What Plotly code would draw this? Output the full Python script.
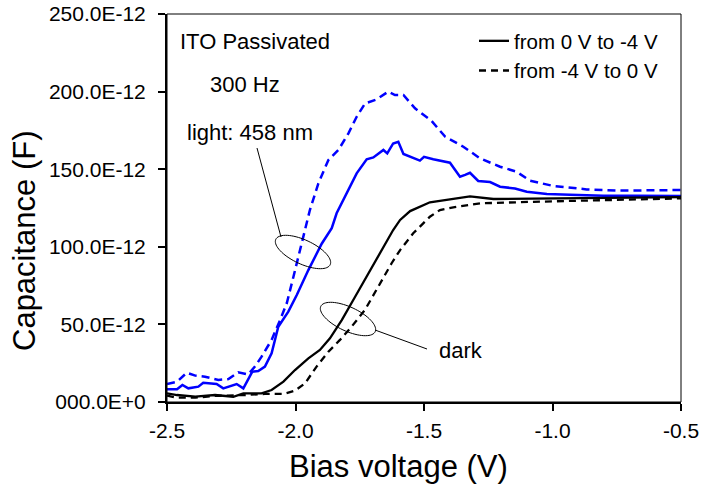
import numpy as np
import plotly.graph_objects as go

# ---------------- data (bias in V, capacitance in pF) ----------------
light_up_v = [-2.500, -2.461, -2.440, -2.417, -2.378, -2.359, -2.307, -2.281, -2.229, -2.203,
              -2.168, -2.145, -2.119, -2.093, -2.067, -2.028, -1.995, -1.950, -1.898, -1.859,
              -1.840, -1.800, -1.762, -1.723, -1.697, -1.658, -1.643, -1.620, -1.600, -1.580,
              -1.535, -1.516, -1.500, -1.464, -1.399, -1.360, -1.340, -1.321, -1.289, -1.243,
              -1.204, -1.146, -1.100, -1.022, -0.932, -0.802, -0.672, -0.500]
light_up_c = [8.2, 8.2, 11.0, 8.8, 9.9, 12.4, 11.6, 8.8, 11.6, 8.8,
              19.5, 20.0, 22.8, 31.4, 48.5, 58.2, 68.9, 85.0, 102.0, 112.0,
              121.6, 134.5, 147.3, 156.4, 157.6, 162.4, 160.2, 166.6, 167.7, 159.8,
              157.0, 155.5, 158.0, 156.4, 154.2, 145.2, 146.3, 147.7, 142.4, 141.7,
              138.7, 137.6, 135.5, 134.0, 133.6, 132.9, 132.9, 132.7]

light_down_v = [-2.500, -2.461, -2.423, -2.390, -2.352, -2.300, -2.261, -2.223, -2.184, -2.158,
                -2.132, -2.093, -2.060, -2.034, -2.008, -1.989, -1.970, -1.944, -1.911, -1.872,
                -1.833, -1.794, -1.762, -1.729, -1.684, -1.639, -1.613, -1.580, -1.535, -1.502,
                -1.470, -1.418, -1.347, -1.282, -1.204, -1.140, -1.088, -0.997, -0.867, -0.737,
                -0.500]
light_down_c = [11.6, 13.0, 18.9, 17.0, 16.3, 14.2, 14.8, 19.1, 17.8, 22.8,
                29.2, 40.0, 52.8, 63.6, 80.7, 93.6, 108.0, 123.7, 140.9, 155.9,
                162.4, 173.1, 183.8, 192.4, 195.0, 200.0, 197.8, 197.8, 189.2, 184.9,
                181.0, 171.0, 164.5, 157.0, 151.6, 148.4, 142.6, 139.2, 137.0, 136.2,
                136.6]

dark_up_v = [-2.500, -2.461, -2.390, -2.313, -2.242, -2.203, -2.132, -2.093, -2.047, -2.002,
             -1.950, -1.905, -1.866, -1.820, -1.768, -1.716, -1.665, -1.620, -1.593, -1.554,
             -1.477, -1.399, -1.321, -1.230, -0.997, -0.500]
dark_up_c = [5.6, 4.5, 3.4, 4.5, 3.4, 5.6, 5.6, 7.7, 13.1, 20.6,
             28.1, 33.5, 41.0, 52.8, 67.8, 82.9, 97.9, 110.8, 117.3, 123.0,
             128.7, 130.6, 132.5, 130.8, 131.2, 132.0]

dark_down_v = [-2.500, -2.461, -2.390, -2.313, -2.196, -2.119, -2.047, -2.002, -1.963, -1.918,
               -1.872, -1.827, -1.782, -1.730, -1.678, -1.626, -1.593, -1.574, -1.542, -1.477,
               -1.438, -1.386, -1.282, -1.074, -0.815, -0.500]
dark_down_c = [4.1, 2.8, 2.8, 3.9, 4.5, 5.2, 5.2, 7.3, 12.0, 22.8,
               32.4, 40.0, 48.5, 59.3, 74.3, 89.4, 97.9, 102.2, 108.7, 119.4,
               123.7, 125.4, 128.0, 129.0, 130.1, 131.2]

x_tickvals = [-2.5, -2.0, -1.5, -1.0, -0.5]
x_ticktext = ["-2.5", "-2.0", "-1.5", "-1.0", "-0.5"]
y_tickvals_pf = [0, 50, 100, 150, 200, 250]
y_ticktext = ["000.0E+0", "50.0E-12", "100.0E-12", "150.0E-12", "200.0E-12", "250.0E-12"]

legend_names = ["from 0 V to -4 V", "from -4 V to 0 V"]

# ---------------- layout constants ----------------
W, H = 702, 488
ML, MR, MT, MB = 167, 21, 14, 86
XR = [-2.5, -0.5]
YR = [0, 250e-12]
FONT = "Liberation Sans, Arial, sans-serif"
PW, PH = W - ML - MR, H - MT - MB


def px_to_data(px, py):
    x = XR[0] + (px - ML) / PW * (XR[1] - XR[0])
    y = YR[0] + (H - MB - py) / PH * (YR[1] - YR[0])
    return x, y


def ellipse_path(cx, cy, a, b, ang_deg, n=72):
    th = np.deg2rad(ang_deg)
    t = np.linspace(0, 2 * np.pi, n, endpoint=False)
    ex = cx + a * np.cos(t) * np.cos(th) - b * np.sin(t) * np.sin(th)
    ey = cy + a * np.cos(t) * np.sin(th) + b * np.sin(t) * np.cos(th)
    pts = [px_to_data(u, v) for u, v in zip(ex, ey)]
    d = "M " + " L ".join(f"{p[0]:.5f},{p[1]:.6e}" for p in pts) + " Z"
    return d


pf = 1e-12
fig = go.Figure()
fig.add_trace(go.Scatter(x=light_up_v, y=np.array(light_up_c) * pf, mode="lines",
                         line=dict(color="#0000ff", width=2.5), showlegend=False))
fig.add_trace(go.Scatter(x=light_down_v, y=np.array(light_down_c) * pf, mode="lines",
                         line=dict(color="#0000ff", width=2.5, dash="8px,5px"), showlegend=False))
fig.add_trace(go.Scatter(x=dark_up_v, y=np.array(dark_up_c) * pf, mode="lines",
                         name=legend_names[0], legendgroup="a",
                         line=dict(color="black", width=2.3)))
fig.add_trace(go.Scatter(x=dark_down_v, y=np.array(dark_down_c) * pf, mode="lines",
                         name=legend_names[1], legendgroup="b",
                         line=dict(color="black", width=2.3, dash="7px,5px")))

shapes = [
    dict(type="rect", xref="paper", yref="paper", x0=0, y0=0, x1=1, y1=1,
         line=dict(color="black", width=1), layer="above"),
    dict(type="path", path=ellipse_path(303, 252, 30, 12, 25), line=dict(color="black", width=1)),
    dict(type="path", path=ellipse_path(348, 319, 30, 12, 25), line=dict(color="black", width=1)),
]
for (p0, p1) in [((257, 148), (281, 237)), ((375, 330), (427, 349))]:
    a0 = px_to_data(*p0)
    a1 = px_to_data(*p1)
    shapes.append(dict(type="line", x0=a0[0], y0=a0[1], x1=a1[0], y1=a1[1],
                       line=dict(color="black", width=1)))

annotations = []
for txt, px, py in [("ITO Passivated", 178, 41), ("300 Hz", 208, 84),
                    ("light: 458 nm", 185, 132), ("dark", 437, 350)]:
    x, y = px_to_data(px, py)
    annotations.append(dict(text=txt, x=x, y=y, xanchor="left", yanchor="middle",
                            showarrow=False, font=dict(size=22, color="black", family=FONT)))
# axis titles
annotations.append(dict(text="Bias voltage (V)", xref="paper", yref="paper",
                        x=(398 - ML) / PW, y=-(466 - (H - MB)) / PH, xanchor="center", yanchor="middle",
                        showarrow=False, font=dict(size=31, color="black", family=FONT)))
annotations.append(dict(text="Capacitance (F)", xref="paper", yref="paper",
                        x=-(ML - 25) / PW, y=(H - MB - 241) / PH, xanchor="center", yanchor="middle",
                        textangle=-90, showarrow=False, font=dict(size=31, color="black", family=FONT)))

fig.update_layout(
    width=W, height=H,
    margin=dict(l=ML, r=MR, t=MT, b=MB, autoexpand=False),
    paper_bgcolor="white", plot_bgcolor="white",
    font=dict(family=FONT, color="black", size=21),
    showlegend=True,
    legend=dict(x=(474 - ML) / PW, y=(H - MB - 21) / PH, xanchor="left", yanchor="top",
                bgcolor="rgba(0,0,0,0)", font=dict(size=20.5, family=FONT),
                traceorder="grouped", tracegroupgap=0, itemwidth=30),
    shapes=shapes,
    annotations=annotations,
)
fig.update_xaxes(range=XR, tickvals=x_tickvals, ticktext=x_ticktext, showgrid=False, zeroline=False,
                 showline=True, linecolor="black", linewidth=2, ticks="outside", ticklen=7,
                 tickwidth=1.5, tickcolor="black", ticklabelstandoff=2, automargin=False,
                 tickfont=dict(size=21, family=FONT, color="black"))
fig.update_yaxes(range=YR, tickvals=[v * pf for v in y_tickvals_pf], ticktext=y_ticktext,
                 showgrid=False, zeroline=False, automargin=False,
                 showline=True, linecolor="black", linewidth=2, ticks="outside", ticklen=7,
                 tickwidth=1.5, tickcolor="black", ticklabelstandoff=8,
                 tickfont=dict(size=21, family=FONT, color="black"))

fig.write_html("out.html")
